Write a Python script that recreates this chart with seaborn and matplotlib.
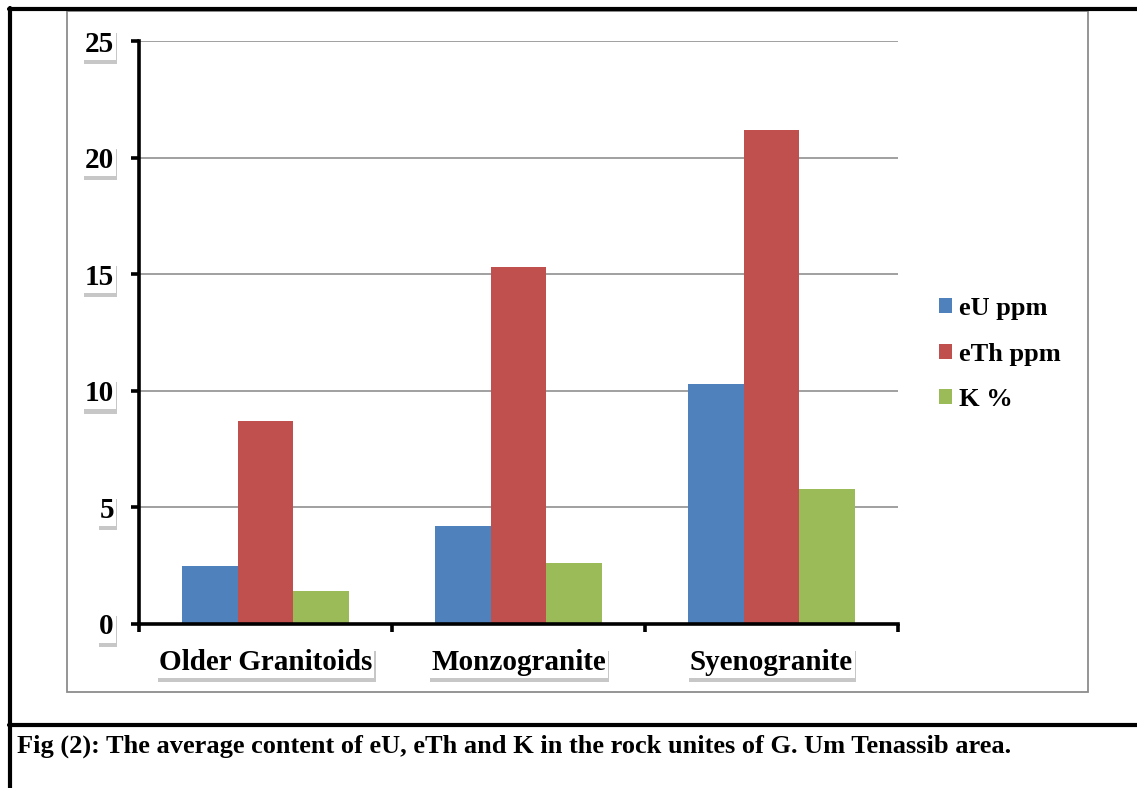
import matplotlib
matplotlib.use('Agg')
import matplotlib.pyplot as plt
import matplotlib.patheffects as pe
from matplotlib.lines import Line2D
from matplotlib.patches import Rectangle
import seaborn as sns
import pandas as pd

# data
units = ['Older Granitoids', 'Monzogranite', 'Syenogranite']
elements = ['eU ppm', 'eTh ppm', 'K %']
eU = [2.5, 4.2, 10.3]
eTh = [8.7, 15.3, 21.2]
K = [1.4, 2.6, 5.8]
colors = ['#4F81BD', '#C0504D', '#9BBB59']
y_ticks = [0, 5, 10, 15, 20, 25]
caption = 'Fig (2): The average content of eU, eTh and K in the rock unites of G. Um Tenassib area.'

df = pd.DataFrame({
    'unit': units * 3,
    'element': [e for e in elements for _ in units],
    'value': eU + eTh + K,
})

sns.set_theme(style='white')
plt.rcParams['font.family'] = ['Liberation Serif', 'DejaVu Serif']
plt.rcParams['font.weight'] = 'bold'
plt.rcParams['text.color'] = 'black'
plt.rcParams['xtick.labelcolor'] = 'black'
plt.rcParams['ytick.labelcolor'] = 'black'

W, H = 1137, 788
fig = plt.figure(figsize=(W / 100, H / 100), dpi=100)
ax = fig.add_axes([139 / W, 1 - 624 / H, (898 - 139) / W, (624 - 41) / H])

sns.barplot(data=df, x='unit', y='value', hue='element', palette=colors,
            saturation=1, width=0.664, errorbar=None, linewidth=0, ax=ax)

ax.set_xlim(-0.5, 2.5)
ax.set_ylim(0, 25)
ax.set_yticks(y_ticks)
ax.set_xlabel('')
ax.set_ylabel('')
ax.yaxis.grid(True, color='#868686', linewidth=1.1)
ax.set_axisbelow(True)

for s in ['top', 'right']:
    ax.spines[s].set_visible(False)
for s in ['left', 'bottom']:
    ax.spines[s].set_color('black')
    ax.spines[s].set_linewidth(2.6)
    ax.spines[s].set_path_effects([pe.withSimplePatchShadow(offset=(1.5, -1.5), alpha=0.3)])

# ticks at category boundaries, labels at the centres
ax.set_xticks([-0.5, 0.5, 1.5, 2.5], minor=True)
ax.tick_params(axis='x', which='major', length=0, pad=18, labelsize=21, labelcolor='black')
ax.tick_params(axis='x', which='minor', bottom=True, length=6, width=2.6,
               color='black', direction='out')
ax.tick_params(axis='y', left=True, length=6, width=2.6, color='black',
               direction='out', pad=12, labelsize=21, labelcolor='black')

# white boxes with drop shadow behind tick labels
for lab in ax.get_xticklabels() + ax.get_yticklabels():
    lab.set_color('black')
    lab.set_bbox(dict(facecolor='white', edgecolor='none', pad=1.5))
    lab.get_bbox_patch().set_path_effects(
        [pe.withSimplePatchShadow(offset=(1, -3), shadow_rgbFace='black', alpha=0.22)])

h, l = ax.get_legend_handles_labels()
leg = ax.legend(h, l, loc='center left', bbox_to_anchor=(939 / W, 1 - 354 / H),
                bbox_transform=fig.transFigure, frameon=False,
                prop={'size': 19, 'weight': 'bold'}, handlelength=0.5, handleheight=0.5,
                handletextpad=0.25, labelspacing=0.85, borderpad=0, borderaxespad=0)
for t in leg.get_texts():
    t.set_color('black')

# frame lines and chart border
fig.add_artist(Rectangle((67 / W, 1 - 692 / H), (1088 - 67) / W, (692 - 11) / H,
                         fill=False, edgecolor='#8c8c8c', linewidth=1.3,
                         transform=fig.transFigure))
fig.add_artist(Line2D([10 / W, 10 / W], [0, 1 - 8 / H], color='black', lw=3,
                      transform=fig.transFigure))
fig.add_artist(Line2D([8.5 / W, 1], [1 - 9 / H, 1 - 9 / H], color='black', lw=3,
                      transform=fig.transFigure))
fig.add_artist(Line2D([8.5 / W, 1], [1 - 725 / H, 1 - 725 / H], color='black', lw=3,
                      transform=fig.transFigure))

fig.text(17 / W, 1 - 746 / H, caption, fontsize=19, weight='bold', color='black',
         ha='left', va='center')

fig.savefig('out.png', dpi=100)
